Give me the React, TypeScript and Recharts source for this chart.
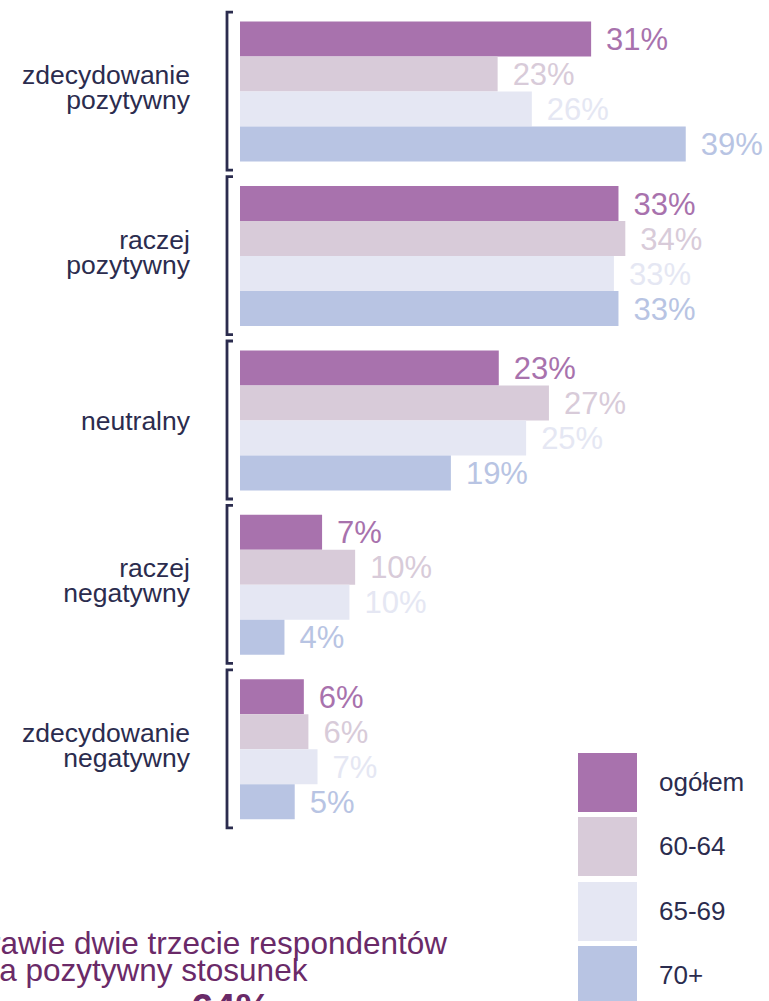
import React from 'react';
import { BarChart, Bar, XAxis, YAxis, LabelList } from 'recharts';

// categories (two-line labels split on the space)
const categories = [
  'zdecydowanie pozytywny',
  'raczej pozytywny',
  'neutralny',
  'raczej negatywny',
  'zdecydowanie negatywny',
];

// shares in %
const ogolem = [30.8, 33.2, 22.7, 7.2, 5.6];
const age6064 = [22.6, 33.8, 27.1, 10.1, 6.0];
const age6569 = [25.6, 32.8, 25.1, 9.6, 6.8];
const age70 = [39.1, 33.2, 18.5, 3.9, 4.8];

const seriesNames = ['ogółem', '60-64', '65-69', '70+'];
const seriesKeys = ['ogolem', 'a6064', 'a6569', 'a70'];
const seriesColors = ['#a872ad', '#d8cbd9', '#e5e7f3', '#b8c4e3'];

const summaryLines = ['Prawie dwie trzecie respondentów', 'ma pozytywny stosunek'];
const summaryValue = '64%';

const data = categories.map((name, i) => ({
  name,
  ogolem: ogolem[i],
  a6064: age6064[i],
  a6569: age6569[i],
  a70: age70[i],
}));

const FONT = '"Liberation Sans", Arial, sans-serif';
const DARK = '#2b2c4e';
const PURPLE = '#6a2a68';

const CategoryTick = (props: any) => {
  const { x, y, payload } = props;
  const words: string[] = String(payload.value).split(' ');
  const tx = x - 50;
  const bx = x - 13;
  return (
    <g>
      <text
        x={tx}
        textAnchor="end"
        fill={DARK}
        fontSize={26.5}
        fontFamily={FONT}
      >
        {words.length > 1 ? (
          <>
            <tspan x={tx} y={y - 8}>{words[0]}</tspan>
            <tspan x={tx} y={y + 17}>{words[1]}</tspan>
          </>
        ) : (
          <tspan x={tx} y={y + 9}>{words[0]}</tspan>
        )}
      </text>
      <path
        d={`M${bx + 6},${y - 80} H${bx} V${y + 78} H${bx + 6}`}
        fill="none"
        stroke={DARK}
        strokeWidth={2.8}
      />
    </g>
  );
};

const fmt = (v: any) => `${Math.round(Number(v))}%`;

export default function App() {
  return (
    <div
      style={{
        position: 'absolute',
        left: 0,
        top: 0,
        width: 769,
        height: 1001,
        overflow: 'hidden',
        background: '#fff',
        fontFamily: FONT,
      }}
    >
      <BarChart
        width={769}
        height={1001}
        data={data}
        layout="vertical"
        margin={{ top: 10, right: 73, bottom: 169, left: 0 }}
        barCategoryGap={11.6}
        barGap={0}
      >
        <XAxis type="number" domain={[0, 40]} hide />
        <YAxis
          type="category"
          dataKey="name"
          width={240}
          axisLine={false}
          tickLine={false}
          tickSize={0}
          tickMargin={0}
          tick={<CategoryTick />}
          interval={0}
        />
        {seriesKeys.map((k, i) => (
          <Bar key={k} dataKey={k} name={seriesNames[i]} fill={seriesColors[i]} isAnimationActive={false}>
            <LabelList
              dataKey={k}
              position="right"
              offset={15}
              formatter={fmt}
              fill={seriesColors[i]}
              fontSize={31}
              fontFamily={FONT}
            />
          </Bar>
        ))}
      </BarChart>

      {/* legend */}
      <div style={{ position: 'absolute', left: 578, top: 753 }}>
        {seriesNames.map((n, i) => (
          <div
            key={n}
            style={{ display: 'flex', alignItems: 'center', height: 59, marginBottom: 5.3 }}
          >
            <div style={{ width: 59, height: 59, background: seriesColors[i] }} />
            <span style={{ marginLeft: 22, fontSize: 26, color: DARK }}>{n}</span>
          </div>
        ))}
      </div>

      {/* summary text, partly outside the frame */}
      <svg
        width={769}
        height={1001}
        style={{ position: 'absolute', left: 0, top: 0, pointerEvents: 'none' }}
      >
        <text x={-31} y={954} fill={PURPLE} fontSize={31.5} fontFamily={FONT}>
          {summaryLines[0]}
        </text>
        <text x={-27} y={981} fill={PURPLE} fontSize={31.5} fontFamily={FONT}>
          {summaryLines[1]}
        </text>
        <text x={231} y={1022} fill={PURPLE} fontSize={40} fontWeight="bold" textAnchor="middle" fontFamily={FONT}>
          {summaryValue}
        </text>
      </svg>
    </div>
  );
}
